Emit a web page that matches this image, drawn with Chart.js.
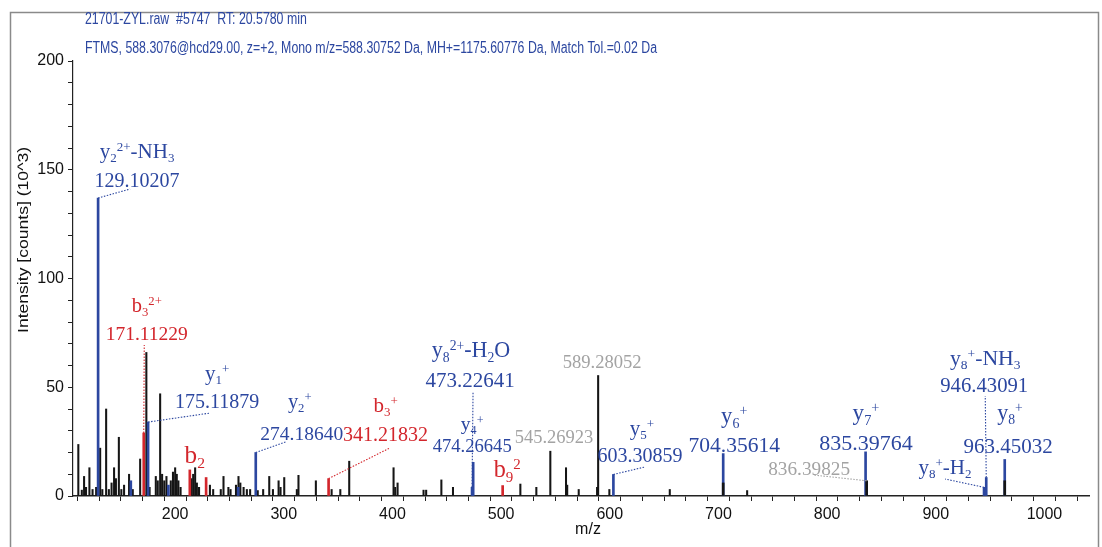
<!DOCTYPE html>
<html>
<head>
<meta charset="utf-8">
<script src="https://cdn.jsdelivr.net/npm/chart.js@4.4.1/dist/chart.umd.min.js"></script>
<style>
  body { margin: 0; background: #fff; }
  canvas { display: block; }
</style>
</head>
<body>
<canvas id="spectrum" width="1102" height="547"></canvas>
<script>
// unannotated peaks (m/z, intensity in 10^3 counts)
const blackMz  = [110.9,114.1,116.2,118.0,121.1,124.0,127.3,131.0,133.0,136.5,139.0,141.5,143.8,145.5,148.2,150.5,153.0,157.6,161.0,167.8,173.5,176.5,182.2,184.0,186.2,188.0,190.0,192.0,196.0,198.0,200.0,201.5,203.0,205.0,215.0,216.6,218.4,220.0,222.0,232.0,235.0,242.0,244.5,249.0,251.0,256.0,258.3,260.0,263.0,266.0,269.0,276.0,281.0,286.6,290.0,295.2,297.0,300.4,312.0,313.5,329.5,344.0,352.0,360.2,401.0,402.5,404.7,428.6,431.0,445.0,455.7,517.7,532.4,545.27,559.7,560.8,571.4,588.3,589.28,599.6,655.2,726.4];
const blackInt = [23.7,2.7,9,4,13,3,4,22,3,40,3,6,13,8,27,3,5,10,3,17,66,4,9,7,47,10,7,9,7,11,13,10,7,4,8,10,13,6,4,5,3,3,9,4,3,5,9,6,4,3,3,2.5,3,9,3,7,4,8.5,3,9.5,7,3,3,16,13,4,6,2.7,2.7,7.4,4,5.5,4,20.6,13,5,3,4,55.4,3,3,2.5];

// y ions (blue)
const blueMz  = [129.10,159.2,175.12,193.8,258.0,274.19,473.23,474.27,603.31,704.36,835.40,944.40,946.43,963.45];
const blueInt = [137,7,34,5,4,20,4,15.5,9.9,19.5,20.3,4,8.5,16.8];

// b ions (red)
const redMz  = [171.11,213.5,228.5,341.22,501.4];
const redInt = [29,12,8.5,8,4.8];

// black peaks lying over the lower part of blue ones
const overMz  = [704.36,836.40,963.45];
const overInt = [6,7,7];

// annotations
const annMz   = [129.10207,171.11229,175.11879,274.18640,341.21832,213.5,473.22641,474.26645,501.4,545.27,589.28,603.30859,704.35614,835.39764,836.40,946.43091,944.40,963.45032];
const annInt  = [137,29,34,20,8,12,4,15.5,4.8,20.6,55.4,9.9,19.5,20.3,7,8.5,4,16.8];
const annIon  = ['y_{2}^{2+}-NH_{3}','b_{3}^{2+}','y_{1}^{+}','y_{2}^{+}','b_{3}^{+}','b_{2}','y_{8}^{2+}-H_{2}O','y_{4}^{+}','b_{9}^{2}','','','y_{5}^{+}','y_{6}^{+}','y_{7}^{+}','','y_{8}^{+}-NH_{3}','y_{8}^{+}-H_{2}','y_{8}^{+}'];
const annMass = ['129.10207','171.11229','175.11879','274.18640','341.21832','','473.22641','474.26645','','545.26923','589.28052','603.30859','704.35614','835.39764','836.39825','946.43091','','963.45032'];
const annKind = ['y','b','y','y','b','b','y','y','b','u','u','y','y','y','u','y','y','y'];

// label placement, pixels relative to the peak top: mass text, ion text, leader end, font size
const labelLayout = [
  {mx: 39, my: -11, nx: 39, ny: -40, lx: 32, ly: -9, fs: 20},
  {mx: 3, my: -93, nx: 3, ny: -121, lx: 0.5, ly: -88, fs: 19.5},
  {mx: 69, my: -14, nx: 69, ny: -42, lx: 62, ly: -9, fs: 20},
  {mx: 46, my: -12.5, nx: 44, ny: -44.5, lx: 31, ly: -11, fs: 19.5},
  {mx: 57, my: -37.5, nx: 57, ny: -66.5, lx: 61, ly: -30.5, fs: 20},
  {nx: 5, ny: -7, fs: 24},
  {mx: -2, my: -100, nx: -1, ny: -130, lx: 1, ly: -95, fs: 21},
  {mx: -1, my: -10, nx: -1, ny: -32, fs: 18.6},
  {nx: 4.5, ny: -8.5, fs: 23},
  {mx: 3.7, my: -8, fs: 18.5},
  {mx: 4, my: -7.5, fs: 18.6},
  {mx: 26.5, my: -12.5, nx: 28.5, ny: -39.5, lx: 31.5, ly: -7.5, fs: 20},
  {mx: 11, my: -1.6, nx: 11, ny: -30.6, fs: 21.5},
  {mx: 0.4, my: -1.8, nx: 0.4, ny: -31.8, fs: 22},
  {mx: -57.5, my: -5.8, lx: -53.5, ly: -5.8, fs: 19.3},
  {mx: -2, my: -85.5, nx: -1, ny: -112.5, lx: -1, ly: -81.5, fs: 20.7},
  {nx: -39, ny: -13.3, lx: -39, ly: -8.3, fs: 20},
  {mx: 3.3, my: -6.5, nx: 5.3, ny: -39.5, fs: 21}
];

const titleLine1 = '21701-ZYL.raw  #5747  RT: 20.5780 min';
const titleLine2 = 'FTMS, 588.3076@hcd29.00, z=+2, Mono m/z=588.30752 Da, MH+=1175.60776 Da, Match Tol.=0.02 Da';

const BLUE = '#2c47a0';
const RED = '#d3262c';
const GRAY = '#a3a3a3';
const kindColor = { y: BLUE, b: RED, u: GRAY };

function pts(mz, ints) {
  return mz.map((m, i) => ({ x: m, y: ints[i] }));
}

function richParts(s) {
  const parts = [];
  const re = /([_^])\{([^}]*)\}|([^_^]+)/g;
  let m;
  while ((m = re.exec(s))) {
    if (m[3]) parts.push({ t: m[3], k: 0 });
    else parts.push({ t: m[2], k: m[1] === '_' ? 1 : 2 });
  }
  return parts;
}

function drawRich(ctx, s, cx, by, fs, color) {
  const parts = richParts(s);
  const small = fs * 0.62;
  let w = 0;
  parts.forEach(p => {
    ctx.font = (p.k ? small : fs) + 'px "Liberation Serif"';
    p.w = ctx.measureText(p.t).width;
    w += p.w;
  });
  let x = cx - w / 2;
  ctx.fillStyle = color;
  ctx.textAlign = 'left';
  ctx.textBaseline = 'alphabetic';
  parts.forEach(p => {
    ctx.font = (p.k ? small : fs) + 'px "Liberation Serif"';
    const dy = p.k === 1 ? fs * 0.2 : p.k === 2 ? -fs * 0.34 : 0;
    ctx.fillText(p.t, x, by + dy);
    x += p.w;
  });
}

function narrowText(ctx, text, x, y, size, sx, color) {
  ctx.save();
  ctx.font = size + 'px "Liberation Sans"';
  ctx.fillStyle = color;
  ctx.textAlign = 'left';
  ctx.textBaseline = 'alphabetic';
  ctx.translate(x, y);
  ctx.scale(sx, 1);
  ctx.fillText(text, 0, 0);
  ctx.restore();
}

const decorations = {
  id: 'decorations',
  afterDraw(chart) {
    const ctx = chart.ctx;
    const xs = chart.scales.x, ys = chart.scales.y;
    ctx.save();

    // frame
    ctx.strokeStyle = '#8a8a8a';
    ctx.lineWidth = 1.5;
    ctx.strokeRect(10.5, 12.5, 1088, 545);

    // header
    ctx.font = '16px "Liberation Sans"';
    const sx = 572 / ctx.measureText(titleLine2).width;
    narrowText(ctx, titleLine1, 85, 24, 16, sx, BLUE);
    narrowText(ctx, titleLine2, 85, 53, 16, sx, BLUE);

    // y title
    ctx.save();
    ctx.font = '15px "Liberation Sans"';
    const ysx = 186 / ctx.measureText('Intensity [counts] (10^3)').width;
    ctx.translate(28, 240);
    ctx.rotate(-Math.PI / 2);
    ctx.scale(ysx, 1);
    ctx.fillStyle = '#111';
    ctx.textAlign = 'center';
    ctx.textBaseline = 'alphabetic';
    ctx.fillText('Intensity [counts] (10^3)', 0, 0);
    ctx.restore();

    // x title
    ctx.font = '16px "Liberation Sans"';
    ctx.fillStyle = '#111';
    ctx.textAlign = 'center';
    ctx.fillText('m/z', 588, 534);

    // peak labels
    annMz.forEach((mz, i) => {
      const L = labelLayout[i];
      const px = xs.getPixelForValue(mz);
      const py = ys.getPixelForValue(annInt[i]);
      const color = kindColor[annKind[i]];
      if (L.lx !== undefined) {
        ctx.save();
        ctx.strokeStyle = color;
        ctx.lineWidth = 1.1;
        ctx.setLineDash([1.5, 1.5]);
        ctx.beginPath();
        ctx.moveTo(px, py);
        ctx.lineTo(px + L.lx, py + L.ly);
        ctx.stroke();
        ctx.restore();
      }
      if (annIon[i]) drawRich(ctx, annIon[i], px + L.nx, py + L.ny, L.fs * 1.05, color);
      if (annMass[i]) {
        ctx.font = L.fs + 'px "Liberation Serif"';
        ctx.fillStyle = color;
        ctx.textAlign = 'center';
        ctx.textBaseline = 'alphabetic';
        ctx.fillText(annMass[i], px + L.mx, py + L.my);
      }
    });
    ctx.restore();
  }
};

const ctx = document.getElementById('spectrum');

new Chart(ctx, {
  type: 'bar',
  data: {
    datasets: [
      { data: pts(blackMz, blackInt), backgroundColor: '#151515', barThickness: 1.4, grouped: false, order: 3 },
      { data: pts(blueMz, blueInt), backgroundColor: BLUE, barThickness: 2, grouped: false, order: 2 },
      { data: pts(redMz, redInt), backgroundColor: RED, barThickness: 2, grouped: false, order: 2 },
      { data: pts(overMz, overInt), backgroundColor: '#151515', barThickness: 2, grouped: false, order: 1 }
    ]
  },
  options: {
    responsive: false,
    animation: false,
    devicePixelRatio: 1,
    layout: { padding: { top: 61, right: 13, left: 0, bottom: 0 } },
    plugins: { legend: { display: false }, tooltip: { enabled: false } },
    scales: {
      x: {
        type: 'linear',
        min: 106,
        max: 1041,
        offset: false,
        border: { color: '#222', width: 1.5 },
        grid: { drawOnChartArea: false, tickLength: 5, color: '#222' },
        ticks: {
          stepSize: 20,
          includeBounds: false,
          autoSkip: false,
          maxRotation: 0,
          padding: 4,
          color: '#111',
          font: { family: 'Liberation Sans', size: 16 },
          callback: v => (v % 100 === 0 ? v : '')
        },
        afterFit: s => { s.height = 51; }
      },
      y: {
        min: 0,
        max: 200,
        border: { color: '#222', width: 1.2 },
        grid: { drawOnChartArea: false, tickLength: 5, color: '#222' },
        ticks: {
          stepSize: 10,
          autoSkip: false,
          padding: 4,
          color: '#111',
          font: { family: 'Liberation Sans', size: 16 },
          callback: v => (v % 50 === 0 ? v : '')
        },
        afterFit: s => { s.width = 73; }
      }
    }
  },
  plugins: [decorations]
});
</script>
</body>
</html>
